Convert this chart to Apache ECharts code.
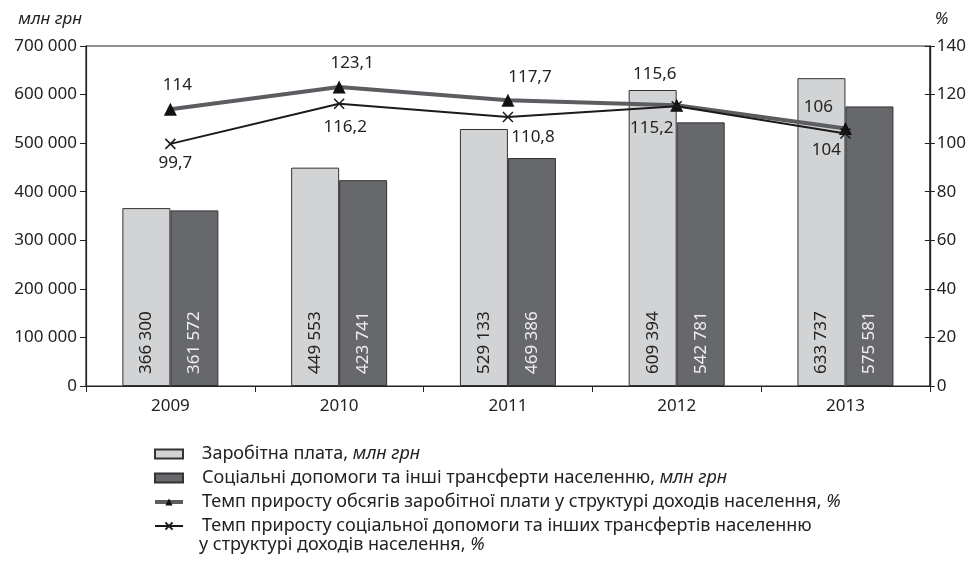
<!DOCTYPE html>
<html>
<head>
<meta charset="utf-8">
<script src="https://cdn.jsdelivr.net/npm/echarts@6/dist/echarts.min.js"></script>
<style>html,body{margin:0;padding:0;background:#fff}#c{width:969px;height:563px}</style>
</head>
<body>
<div id="c"></div>
<script>
const years = ['2009', '2010', '2011', '2012', '2013'];
const wages = [366300, 449553, 529133, 609394, 633737];
const social = [361572, 423741, 469386, 542781, 575581];
const wageGrowth = [114, 123.1, 117.7, 115.6, 106];
const socialGrowth = [99.7, 116.2, 110.8, 115.2, 104];
const leftTicks = [0, 100000, 200000, 300000, 400000, 500000, 600000, 700000];
const rightTicks = [0, 20, 40, 60, 80, 100, 120, 140];
const seriesNames = [
  'Заробітна плата',
  'Соціальні допомоги та інші трансферти населенню',
  'Темп приросту обсягів заробітної плати у структурі доходів населення',
  'Темп приросту соціальної допомоги та інших трансфертів населенню'
];
const seriesUnits = ['млн грн', 'млн грн', '%', ''];
const legendExtraLine = 'у структурі доходів населення, ';
const leftAxisName = 'млн грн';
const rightAxisName = '%';

// label offsets for line labels (style)
const wageOff = [[7, -24], [13, -24], [22, -23], [-22, -31], [-27, -21]];
const socialOff = [[5, 19], [6, 23], [25, 20], [-25, 22], [-19, 17]];

const FONT = 'Noto Sans';
const fmtThousands = v => String(v).replace(/\B(?=(\d{3})+(?!\d))/g, ' ');
const fmtDec = v => String(v).replace('.', ',');

const chart = echarts.init(document.getElementById('c'));
const xPath = 'path://M0 0L10 10M10 0L0 10';

const lineData = (vals, offs) => vals.map((v, i) => ({
  value: v,
  label: { offset: offs[i] }
}));

chart.setOption({
  animation: false,
  textStyle: { fontFamily: FONT },
  grid: { left: 86, right: 38, top: 46, bottom: 177, show: true, borderColor: '#222', borderWidth: 1.2, backgroundColor: 'transparent' },
  xAxis: {
    type: 'category',
    data: years,
    axisLine: { lineStyle: { color: '#222', width: 1.2 } },
    axisTick: { show: true, length: 6, lineStyle: { color: '#222' } },
    axisLabel: { color: '#222', fontSize: 17, margin: 12, fontFamily: FONT }
  },
  yAxis: [
    {
      type: 'value', min: 0, max: 700000, interval: 100000,
      name: leftAxisName, nameLocation: 'end', nameGap: 18,
      nameTextStyle: { fontStyle: 'italic', fontSize: 17, color: '#222', align: 'right', padding: [0, 4, 0, 0], fontFamily: FONT },
      axisLine: { show: true, lineStyle: { color: '#222', width: 1.2 } },
      axisTick: { show: true, length: 6, lineStyle: { color: '#222' } },
      splitLine: { show: false },
      axisLabel: { color: '#222', fontSize: 17, margin: 9, fontFamily: FONT, formatter: v => leftTicks.includes(v) ? fmtThousands(v) : '' }
    },
    {
      type: 'value', min: 0, max: 140, interval: 20, position: 'right',
      name: rightAxisName, nameLocation: 'end', nameGap: 18,
      nameTextStyle: { fontStyle: 'italic', fontSize: 17, color: '#222', align: 'left', padding: [0, 0, 0, 5], fontFamily: FONT },
      axisLine: { show: true, lineStyle: { color: '#222', width: 1.2 } },
      axisTick: { show: true, length: 5, lineStyle: { color: '#222' } },
      splitLine: { show: false },
      axisLabel: { color: '#222', fontSize: 17, margin: 7, fontFamily: FONT, formatter: v => rightTicks.includes(v) ? String(v) : '' }
    },
    {
      type: 'value', min: 0, max: 140, interval: 20, position: 'right', offset: 0,
      axisLine: { show: true, lineStyle: { color: '#222', width: 1.2 } },
      axisTick: { show: true, inside: true, length: 5, lineStyle: { color: '#222' } },
      splitLine: { show: false },
      axisLabel: { show: false }
    }
  ],
  legend: {
    orient: 'vertical',
    left: 148, top: 438,
    itemGap: 2,
    itemWidth: 28, itemHeight: 9,
    selectedMode: false,
    data: [
      { name: seriesNames[0], icon: 'rect' },
      { name: seriesNames[1], icon: 'rect' },
      { name: seriesNames[2], lineStyle: { width: 4 } },
      { name: seriesNames[3], lineStyle: { width: 2 } }
    ],
    textStyle: {
      fontSize: 18, color: '#222', lineHeight: 22, padding: [0, 0, 0, 14], fontFamily: FONT,
      rich: { i: { fontStyle: 'italic', fontSize: 18, color: '#222', fontFamily: FONT } }
    },
    formatter: name => {
      const idx = seriesNames.indexOf(name);
      const u = seriesUnits[idx];
      return u ? name + ', {i|' + u + '}' : name;
    }
  },
  graphic: [{
    type: 'text',
    left: 199, top: 536,
    style: {
      text: legendExtraLine + '{i|%}',
      font: '18px "' + FONT + '"',
      fill: '#222',
      rich: { i: { fontStyle: 'italic', fontSize: 18, fill: '#222', fontFamily: FONT } }
    }
  }],
  series: [
    {
      name: seriesNames[0], type: 'bar', data: wages, yAxisIndex: 0,
      barWidth: 48, barGap: '0%',
      itemStyle: { color: '#d2d3d5', borderColor: '#333', borderWidth: 1 },
      label: { show: true, position: 'insideBottom', rotate: 90, align: 'left', verticalAlign: 'middle', distance: 12, color: '#222', fontSize: 17, fontFamily: FONT, formatter: p => fmtThousands(p.value) }
    },
    {
      name: seriesNames[1], type: 'bar', data: social, yAxisIndex: 0,
      barWidth: 48, barGap: '0%',
      itemStyle: { color: '#67686c', borderColor: '#333', borderWidth: 1 },
      label: { show: true, position: 'insideBottom', rotate: 90, align: 'left', verticalAlign: 'middle', distance: 12, color: '#eee', fontSize: 17, fontFamily: FONT, formatter: p => fmtThousands(p.value) }
    },
    {
      name: seriesNames[2], type: 'line', yAxisIndex: 1,
      data: lineData(wageGrowth, wageOff),
      symbol: 'triangle', symbolSize: 13,
      lineStyle: { color: '#5c5d60', width: 4 },
      itemStyle: { color: '#111' },
      label: { show: true, position: 'inside', align: 'center', verticalAlign: 'middle', color: '#222', fontSize: 17, fontFamily: FONT, formatter: p => fmtDec(p.value) },
      z: 5
    },
    {
      name: seriesNames[3], type: 'line', yAxisIndex: 1,
      data: lineData(socialGrowth, socialOff),
      symbol: xPath, symbolSize: 10,
      lineStyle: { color: '#1a1a1a', width: 2 },
      itemStyle: { color: '#1a1a1a', borderColor: '#1a1a1a', borderWidth: 1.5 },
      label: { show: true, position: 'inside', align: 'center', verticalAlign: 'middle', color: '#222', fontSize: 17, fontFamily: FONT, formatter: p => fmtDec(p.value) },
      z: 6
    }
  ]
});
</script>
</body>
</html>
